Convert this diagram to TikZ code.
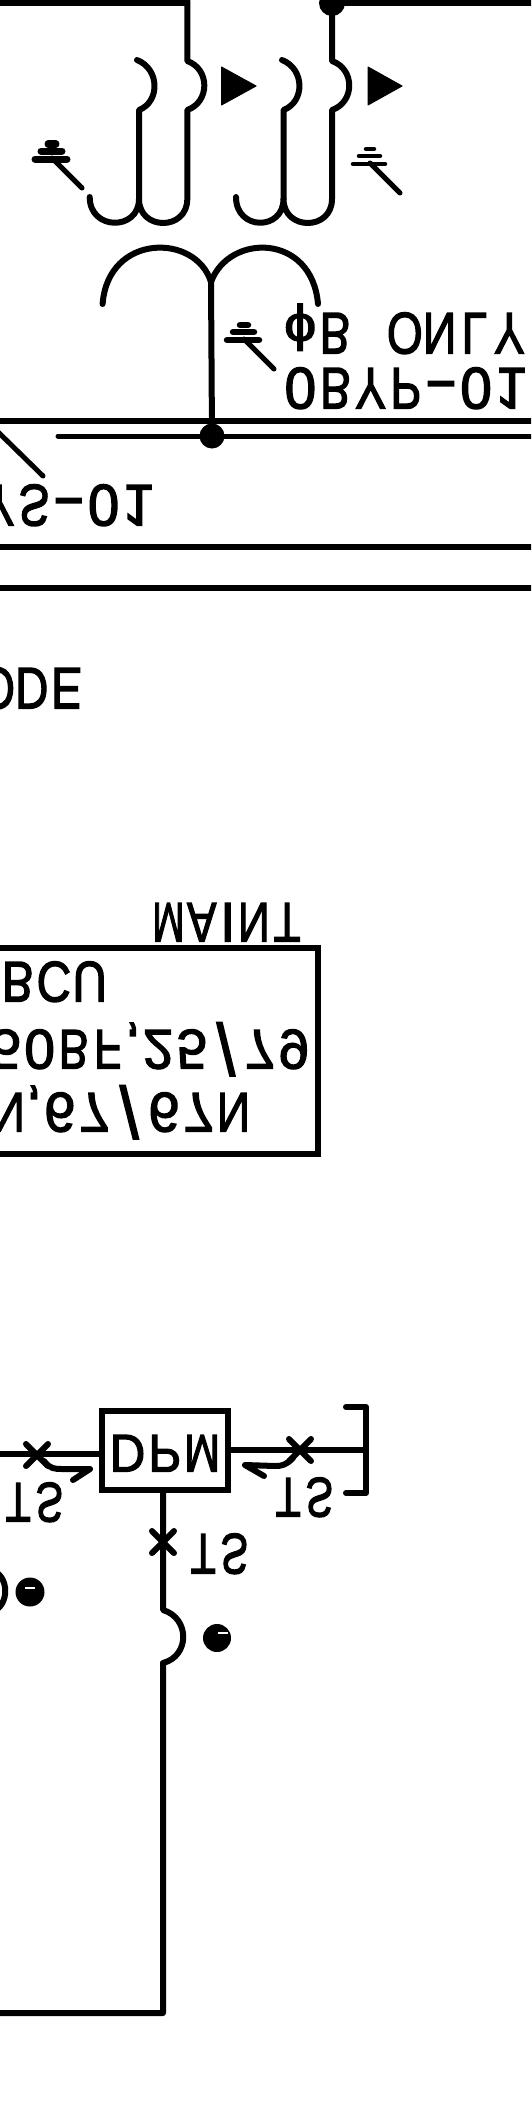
\documentclass[tikz,border=0pt]{standalone}
\usepackage{fontspec}
\setmainfont{Liberation Sans}
\newfontfamily\labfont[FakeBold=2.4]{Liberation Sans}
\def\pitch#1{\pitchloop#1\relax}
\def\pitchloop#1{\ifx#1\relax\else\pitchcell{#1}\expandafter\pitchloop\fi}
\def\pitchcell#1{%
  \ifx#1~\hspace*{0.62em}%
  \else\ifx#1,\makebox[0.3em][c]{,}%
  \else\ifx#1I\makebox[0.35em][c]{I}%
  \else\ifx#1-\makebox[0.62em][c]{\scalebox{1.75}[1]{-}}%
  \else\ifx#1M\makebox[0.62em][c]{\scalebox{0.72}[1]{M}}%
  \else\ifx#1/\makebox[0.62em][c]{\smash{\raisebox{-0.12em}{\scalebox{1.2}[1.3]{/}}}}%
  \else\ifx#1ϕ\makebox[0.62em][c]{\smash{\raisebox{0.02em}{\scalebox{1.02}[0.86]{ϕ}}}}%
  \else\ifcat#1A\makebox[0.62em][c]{\smash{\scalebox{0.82}[1]{#1}}}%
  \else\makebox[0.62em][c]{\smash{#1}}%
  \fi\fi\fi\fi\fi\fi\fi\fi}
\newcommand{\fl}[3]{\resizebox{#1pt}{#2pt}{\fontsize{40pt}{40pt}\selectfont\labfont\rule{0pt}{28.6pt}\pitch{#3}}}
\tikzset{
  x=1pt,y=-1pt,
  wire/.style={line width=6pt,line cap=round,line join=round,black},
  thin wire/.style={line width=5pt,line cap=round,line join=round,black},
  bus/.style={line width=6pt,black},
  flip/.style={yscale=-1,transform shape,inner sep=0pt,anchor=base east},
  dot/.style={circle,fill=black,inner sep=0pt},
  tri/.style={fill=black,draw=black,line width=1pt,line join=round},
}
\begin{document}
\begin{tikzpicture}
\useasboundingbox (0,0) rectangle (531,2114);
\clip (0,0) rectangle (531,2114);
\fill[white] (0,0) rectangle (531,2114);

% top bus and CT groups
\coordinate (a0) at (187.3,0);
\node[dot,minimum size=26pt] (j1) at (332,3) {};
\draw[line width=14pt] (-5,-1) -- (a0 |- 0,-1);
\draw[line width=14pt] (j1.center |- 0,-1) -- (540,-1);
% first CT
\coordinate (a1) at (187.3,61);
\coordinate (a2) at (187.3,110);
\coordinate (a3) at (187.3,199);
\coordinate (a4) at (139,199);
\coordinate (a5) at (89.7,197);
\coordinate (a6) at (137,60);
\coordinate (a7) at (139,110);
\draw[wire] (a0) -- (a1) .. controls (210,69) and (210,102) .. (a2) -- (a3)
  .. controls (187.3,231) and (139,231) .. (a4)
  .. controls (139,231) and (89.7,231) .. (a5);
\draw[wire] (a6) .. controls (160,69) and (160,102) .. (a7) -- (a4);
\draw[tri] (221.5,67) -- (221.5,105) -- (256,86) -- cycle;
% second CT
\coordinate (b1) at (332,61);
\coordinate (b2) at (332,110);
\coordinate (b3) at (332,199);
\coordinate (b4) at (283.5,199);
\coordinate (b5) at (236,197);
\coordinate (b6) at (282,60);
\coordinate (b7) at (283.5,110);
\draw[wire] (j1.center) -- (b1) .. controls (355,69) and (355,102) .. (b2) -- (b3)
  .. controls (332,231) and (283.5,231) .. (b4)
  .. controls (283.5,231) and (236,231) .. (b5);
\draw[wire] (b6) .. controls (305,69) and (305,102) .. (b7) -- (b4);
\draw[tri] (368,67) -- (368,105) -- (402,86) -- cycle;
% earth symbols
\newcommand{\earth}[3]{%
  \draw[thin wire] (#1,#2) ++(30,30) -- ++(-30,-30);
  \draw[thin wire,line width=#3pt] (#1,#2) ++(-17,1) -- ++(32,0);
  \draw[thin wire,line width=#3pt] (#1,#2) ++(-11,-7) -- ++(21,0);
  \draw[thin wire,line width=#3pt] (#1,#2) ++(-4,-14) -- ++(8,0);
}
\earth{52}{158}{7}
\earth{370}{163}{4.5}
\earth{244}{339}{6.5}
% primary
\coordinate (c0) at (102.6,304);
\coordinate (c1) at (211,282);
\coordinate (c2) at (318,304);
\draw[wire] (c0) .. controls (108,233) and (196,233) .. (c1)
  .. controls (229,233) and (312,233) .. (c2);
\node[dot,minimum size=25pt] (j2) at (212,436) {};
\draw[wire] (c1) -- (j2.center);
% buses
\coordinate (d0) at (-5,421); \coordinate (d1) at (540,421);
\draw[bus] (d0) -- (d1);
\coordinate (e0) at (58,436); \coordinate (e1) at (540,436);
\draw[thin wire] (e0) -- (e1);
\coordinate (f0) at (-5,429); \coordinate (f1) at (43,476);
\draw[thin wire] (f0) -- (f1);
\draw[bus] (-5,547) -- (540,547);
\draw[bus] (-5,588) -- (540,588);
% labels
\node[flip] (n1) at (527,313) {\fl{244}{42}{ϕB~ONLY}};
\node[flip] (n2) at (529,368) {\fl{246}{42}{0BYP-01}};
\node[flip] (n3) at (156,485) {\fl{174}{42}{YS-01}};
\node[flip] (n4) at (84,668) {\fl{104}{42}{ODE}};
\node[flip] (n5) at (304,903) {\fl{152}{40}{MAINT}};
% relay box
\node[draw,line width=6pt,minimum width=340pt,minimum height=206pt,inner sep=0pt,anchor=center] (rb) at (148,1051) {};
\node[flip] (n6) at (108,962) {\fl{108}{41}{BCU}};
\node[flip] (n7) at (311,1030) {\fl{322}{40}{50BF,25/79}};
\node[flip] (n8) at (251,1093) {\fl{260}{40}{N,67/67N}};
% DPM
\node[draw,line width=6pt,minimum width=126pt,minimum height=79pt,inner sep=0pt] (dpm) at (164.5,1450) {};
\node[flip] (n9) at (221,1435) {\fl{112}{38}{DPM}};
\coordinate (g0) at (-5,1454);
\coordinate (g1) at (dpm.west |- 0,1454);
\draw[wire] (g0) -- (g1);
\coordinate (g2) at (dpm.east |- 0,1450);
\coordinate (g3) at (366,1450);
\draw[wire] (g2) -- (g3);
\coordinate (br1) at (346,1407);
\coordinate (br2) at (366,1407);
\coordinate (br3) at (366,1493);
\coordinate (br4) at (346,1493);
\draw[wire] (br1) -- (br2) -- (br3) -- (br4);
\newcommand{\xmark}[2]{%
  \draw[wire] (#1,#2) ++(-11,-11) -- ++(22,22);
  \draw[wire] (#1,#2) ++(-11,11) -- ++(22,-22);
}
\xmark{37}{1455}
\xmark{300}{1450}
\xmark{163}{1542}
\coordinate (h0) at (44,1461); \coordinate (h1) at (90,1469); \coordinate (h2) at (73,1480);
\draw[wire] (h0) .. controls (50,1469) and (55,1469) .. (62,1469) -- (h1) -- (h2);
\coordinate (k0) at (293,1458); \coordinate (k1) at (245,1465); \coordinate (k2) at (264,1476);
\draw[wire] (k0) .. controls (286,1465) and (282,1466) .. (275,1466) -- (k1) -- (k2);
\node[flip] (t1) at (65,1483) {\fl{62}{40}{TS}};
\node[flip] (t2) at (335,1478) {\fl{62}{40}{TS}};
\node[flip] (t3) at (250,1534) {\fl{62}{41}{TS}};
% lower circuit
\coordinate (m0) at (163,1610);
\coordinate (m1) at (163,1663);
\coordinate (m2) at (163,2013);
\coordinate (m3) at (-5,2013);
\draw[wire] (dpm.south -| m0) -- (m0) .. controls (190,1618) and (190,1656) .. (m1) -- (m2) -- (m3);
\node[dot,minimum size=28pt] (d1a) at (217,1638) {};
\node[dot,minimum size=29pt] (d2a) at (30,1592) {};
\draw[white,line width=1.6pt] (25,1588) -- (35,1588);
\draw[white,line width=2pt] (218,1633) -- (228,1633);
\coordinate (p0) at (-6,1571); \coordinate (p1) at (-6,1611);
\draw[wire] (p0) .. controls (9,1578) and (9,1604) .. (p1);
\end{tikzpicture}
\end{document}
